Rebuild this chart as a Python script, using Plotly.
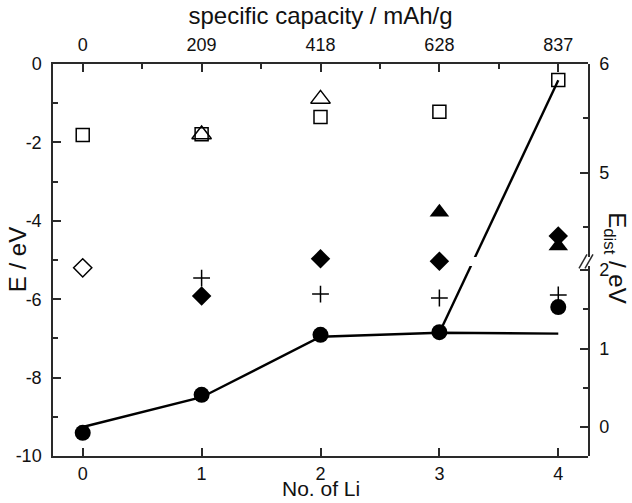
import plotly.graph_objects as go

# ---------------- data ----------------
n_li = [0, 1, 2, 3, 4]
capacity_ticks = [0, 209, 418, 628, 837]          # mAh/g at each No. of Li
cap_per_li = 837 / 4
e_ticks = [-10, -8, -6, -4, -2, 0]

# E (left axis)
sq_x = [0, 1, 2, 3, 4];  sq_y = [-1.81, -1.79, -1.35, -1.22, -0.41]      # open squares
tri_o_x = [1, 2];        tri_o_y = [-1.80, -0.89]                        # open triangles
dia_o_x = [0];           dia_o_y = [-5.20]                               # open diamond
dia_f_x = [1, 2, 3, 4];  dia_f_y = [-5.92, -4.97, -5.03, -4.39]          # filled diamonds
tri_f_x = [3, 4];        tri_f_y = [-3.78, -4.64]                        # filled triangles
crs_x = [1, 2, 3, 4];    crs_y = [-5.46, -5.87, -5.97, -5.89]            # crosses
cir_x = [0, 1, 2, 3, 4]; cir_y = [-9.41, -8.44, -6.91, -6.84, -6.20]     # filled circles

# E_dist (right, broken axis)
dist1_x = [0, 1, 2, 3, 4]; dist1_y = [0.00, 0.38, 1.15, 1.20, 1.19]
dist2_x = [3, 4];          dist2_y = [1.20, 5.85]

# ---------------- layout geometry ----------------
W, H = 632, 503
ML, MR, MT, MB = 53, 44, 64, 47
x_rng = [-0.25, 4.25]
upper_dom = [0.5077, 1.0]
lower_dom = [0.0, 0.4847]
upper_rng = [4.229, 6.0]
lower_rng = [-0.369, 2.051]

def v2f(v, rng, dom):
    return dom[0] + (v - rng[0]) / (rng[1] - rng[0]) * (dom[1] - dom[0])

def f2v(f, rng, dom):
    return rng[0] + (f - dom[0]) / (dom[1] - dom[0]) * (rng[1] - rng[0])

# straight on-screen line between a lower-segment point and an upper-segment point
f_start = v2f(dist2_y[0], lower_rng, lower_dom)
f_end = v2f(dist2_y[1], upper_rng, upper_dom)
low_seg_y = [dist2_y[0], f2v(f_end, lower_rng, lower_dom)]
up_seg_y = [f2v(f_start, upper_rng, upper_dom), dist2_y[1]]

FONT = "Liberation Sans, Arial, sans-serif"
AX = "#2a2a2a"
BLK = "black"

fig = go.Figure()

def mk(x, y, symbol, size, open_=False):
    m = dict(symbol=symbol, size=size, color=BLK, line=dict(width=0))
    if open_:
        m = dict(symbol=symbol, size=size, color=BLK,
                 line=dict(color=BLK, width=1.5))
    return go.Scatter(x=x, y=y, mode="markers", marker=m, showlegend=False,
                      xaxis="x", yaxis="y", cliponaxis=False)

# E_dist lines
fig.add_trace(go.Scatter(x=dist1_x, y=dist1_y, mode="lines", line=dict(color=BLK, width=2.4),
                         xaxis="x", yaxis="y4", showlegend=False))
fig.add_trace(go.Scatter(x=dist2_x, y=low_seg_y, mode="lines", line=dict(color=BLK, width=2.4),
                         xaxis="x", yaxis="y4", showlegend=False))
fig.add_trace(go.Scatter(x=dist2_x, y=up_seg_y, mode="lines", line=dict(color=BLK, width=2.4),
                         xaxis="x", yaxis="y3", showlegend=False))

# E markers
fig.add_trace(mk(sq_x, sq_y, "square-open", 13, True))
fig.add_trace(mk(tri_o_x, tri_o_y, "triangle-up-open", 17, True))
fig.add_trace(mk(dia_o_x, dia_o_y, "diamond-open", 14, True))
fig.add_trace(mk(dia_f_x, dia_f_y, "diamond", 15))
fig.add_trace(mk(tri_f_x, tri_f_y, "triangle-up", 17))
fig.add_trace(go.Scatter(x=crs_x, y=crs_y, mode="markers", showlegend=False,
                         marker=dict(symbol="cross-thin-open", size=12, color=BLK,
                                     line=dict(color=BLK, width=1.5)),
                         xaxis="x", yaxis="y"))
fig.add_trace(mk(cir_x, cir_y, "circle", 16))

# invisible trace for top axis
fig.add_trace(go.Scatter(x=[c for c in capacity_ticks], y=[-20] * 5, mode="markers",
                         marker=dict(opacity=0), xaxis="x2", yaxis="y",
                         showlegend=False, hoverinfo="skip"))

tickfont = dict(family=FONT, size=18, color="#111")
titlefont = dict(family=FONT, size=24, color="#111")
common = dict(showline=True, linecolor=AX, linewidth=1.5, ticks="inside",
              ticklen=8, tickwidth=1.5, tickcolor=AX, showgrid=False,
              zeroline=False, tickfont=tickfont, automargin=False)
minor_common = dict(ticks="inside", ticklen=5, tickwidth=1.5, tickcolor=AX, showgrid=False)

fig.update_layout(
    width=W, height=H,
    margin=dict(l=ML, r=MR, t=MT, b=MB, autoexpand=False),
    plot_bgcolor="rgba(0,0,0,0)", paper_bgcolor="white",
    font=dict(family=FONT, color="#111"),
    xaxis=dict(range=x_rng, tickvals=n_li, anchor="y",
               ticklabelstandoff=1, **common),
    xaxis2=dict(range=[x_rng[0] * cap_per_li, x_rng[1] * cap_per_li],
                tickvals=[i * cap_per_li for i in n_li],
                ticktext=[str(c) for c in capacity_ticks],
                overlaying="x", side="top", anchor="y",
                minor=dict(tickvals=[(i + 0.5) * cap_per_li for i in range(4)], **minor_common),
                title=dict(text="specific capacity / mAh/g", font=titlefont, standoff=4),
                ticklabelstandoff=4, **common),
    yaxis=dict(range=[-10, 0], tickvals=e_ticks, ticktext=[str(v) for v in e_ticks],
               domain=[0, 1], anchor="x",
               minor=dict(dtick=1, **minor_common),
               ticklabelstandoff=6, **common),
    yaxis3=dict(range=upper_rng, domain=upper_dom, dtick=1, anchor="x", side="right",
                minor=dict(dtick=0.5, **minor_common),
                ticklabelstandoff=6, **common),
    yaxis4=dict(range=lower_rng, domain=lower_dom, dtick=1, anchor="x", side="right",
                minor=dict(dtick=0.5, **minor_common),
                ticklabelstandoff=6, **common),
    annotations=[
        dict(text="No. of Li", xref="paper", yref="paper",
             x=0.5, y=-0.1173, xanchor="center", yanchor="bottom",
             showarrow=False, font=dict(family=FONT, size=21, color="#111")),
        dict(text="E / eV", textangle=-90, xref="paper", yref="paper",
             x=-0.067, y=0.50, xanchor="center", yanchor="middle",
             showarrow=False, font=titlefont),
        dict(text="E<sub>dist</sub> / eV", textangle=90, xref="paper", yref="paper",
             x=1.052, y=0.505, xanchor="center", yanchor="middle",
             showarrow=False, font=titlefont),
    ],
)

# axis-break marks
for dx in (-5, 1):
    fig.add_shape(type="line", xref="paper", yref="paper",
                  xsizemode="pixel", ysizemode="pixel",
                  xanchor=1.0, yanchor=(upper_dom[0] + lower_dom[1]) / 2,
                  x0=dx - 4, x1=dx + 4, y0=-7, y1=7,
                  line=dict(color=AX, width=1.5))

fig.write_html("out.html")
